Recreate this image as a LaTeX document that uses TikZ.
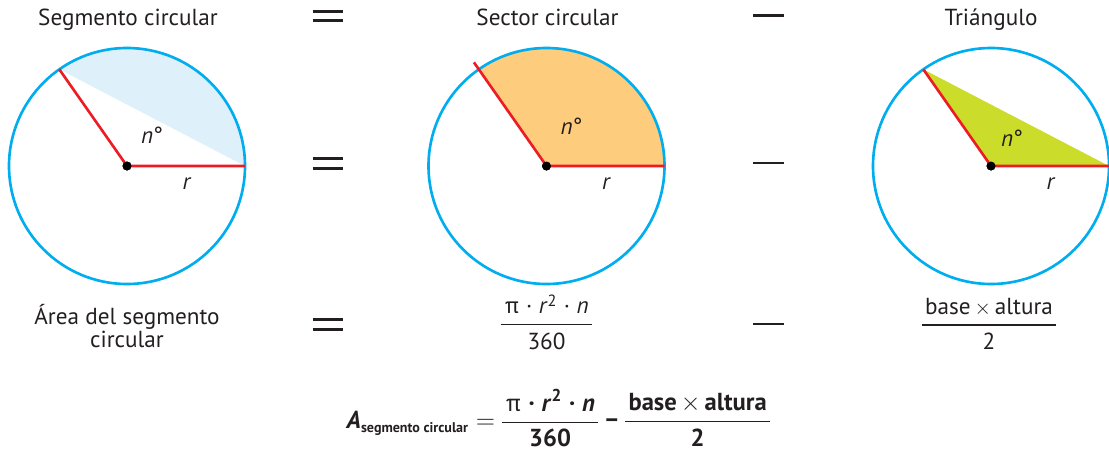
\documentclass[tikz,border=0pt]{standalone}
\usepackage{fontspec}
\setmainfont{PT Sans}
\usetikzlibrary{calc}
\definecolor{inkgray}{RGB}{35,31,32}
\definecolor{rimblue}{RGB}{0,173,239}
\definecolor{radred}{RGB}{237,28,36}
\definecolor{segblue}{RGB}{222,240,250}
\definecolor{secorange}{RGB}{253,204,124}
\definecolor{trigreen}{RGB}{204,220,42}
% fraction with a rule between the two rows
\newcommand{\fracbox}[2]{{\setlength{\tabcolsep}{2pt}\setlength{\arrayrulewidth}{0.8pt}%
  \begin{tabular}{c}#1\\[1pt]\hline\rule{0pt}{13.5pt}#2\end{tabular}}}
\newcommand{\tms}{\,$\times$\,}
\begin{document}
\begin{tikzpicture}[font=\fontsize{13.2}{15.5}\selectfont, text=inkgray,
    rim/.style={draw=rimblue, line width=1.5pt},
    radline/.style={draw=radred, line width=1.5pt, line cap=butt},
    centre/.style={circle, fill=black, inner sep=0pt, minimum size=0.18cm},
    sign/.style={draw=inkgray, line width=1.6pt}]
  \useasboundingbox (0,0) rectangle (22.18,-9.06);
  % three circles: segment, sector, triangle
  \node[centre] (o1) at (2.54,-3.32) {};
  \node[centre] (o2) at (10.93,-3.32) {};
  \node[centre] (o3) at (19.82,-3.32) {};
  \foreach \k in {1,2,3} {
    \path (o\k.center) ++(125:2.36) coordinate (p\k);
    \path (o\k.center) ++(0:2.36) coordinate (q\k);
  }
  \path (o2.center) ++(125:2.53) coordinate (t2);
  \fill[segblue] (p1) arc[start angle=125, end angle=0, radius=2.36] -- cycle;
  \fill[secorange] (o2.center) -- (q2) arc[start angle=0, end angle=125, radius=2.36] -- cycle;
  \fill[trigreen] (o3.center) -- (q3) -- (p3) -- cycle;
  \foreach \k in {1,2,3}
    \draw[rim] (o\k.center) circle[radius=2.36];
  \draw[radline] (p1) -- (o1.center) -- (q1);
  \draw[radline] (t2) -- (o2.center) -- (q2);
  \draw[radline] (p3) -- (o3.center) -- (q3);
  \foreach \k in {1,2,3}
    \node[centre] at (o\k) {};
  \node (n1) at ($(o1)+(0.5,0.62)$) {\textit{n}°};
  \node (n2) at ($(o2)+(0.5,0.79)$) {\textit{n}°};
  \node (n3) at ($(o3)+(0.42,0.56)$) {\textit{n}°};
  \foreach \k in {1,2,3}
    \node (r\k) at ($(o\k)+(1.2,-0.36)$) {\textit{r}};
  % titles
  \node[anchor=base] (tit1) at (2.56,-0.5) {Segmento circular};
  \node[anchor=base] (tit2) at (10.95,-0.5) {Sector circular};
  \node[anchor=base] (tit3) at (19.82,-0.5) {Triángulo};
  % = and - signs in three rows
  \foreach \yy in {-0.32,-3.27,-6.49} {
    \draw[sign] (6.25,\yy+0.094) -- ++(0.6,0);
    \draw[sign] (6.25,\yy-0.094) -- ++(0.6,0);
    \draw[sign] (15.06,\yy+0.01) -- ++(0.62,0);
  }
  % bottom row
  \node[align=center] (lab) at (2.54,-6.52) {Área del segmento\\[-2pt]circular};
  \node (fr1) at (10.93,-6.52) {\fracbox{π\;·\;\textit{r}\textsuperscript{2}\;·\;\textit{n}}{360}};
  \node (fr2) at (19.78,-6.53) {\fracbox{base\tms altura}{2}};
  % final formula
  \node[font=\fontsize{14}{16.5}\selectfont\bfseries] (area) at (11.17,-8.45)
    {\textit{A}\textsubscript{\fontsize{8}{9}\selectfont segmento circular}\;$=$\;%
     \fracbox{{\mdseries π}\;·\;\textit{r}\textsuperscript{2}\;·\;\textit{n}}{360}\;−\;%
     \fracbox{base\tms altura}{2}};
\end{tikzpicture}
\end{document}
